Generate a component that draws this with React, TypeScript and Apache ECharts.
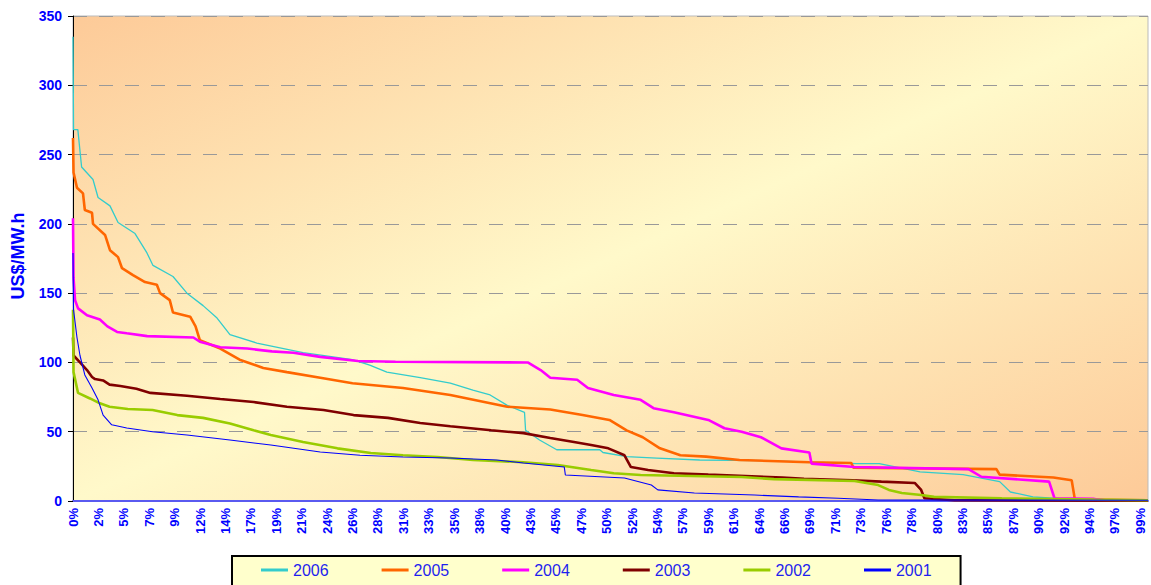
import React, { useEffect, useRef } from "react";
import * as echarts from "echarts";

const seriesNames = ["2006", "2005", "2004", "2003", "2002", "2001"];
const seriesColors = ["#33CCCC", "#FF6600", "#FF00FF", "#800000", "#99CC00", "#0000FF"];
const seriesWidths = [1.3, 2.6, 2.6, 2.6, 2.6, 1.1];

const xTickLabels = [
  "0%", "2%", "5%", "7%", "9%", "12%", "14%", "17%", "19%", "21%", "24%", "26%", "28%", "31%", "33%",
  "35%", "38%", "40%", "43%", "45%", "47%", "50%", "52%", "54%", "57%", "59%", "61%", "64%", "66%",
  "69%", "71%", "73%", "76%", "78%", "80%", "83%", "85%", "87%", "90%", "92%", "94%", "97%", "99%",
];
const xStep = 100 / 42.3;
const yTicks = { min: 0, max: 350, interval: 50 };

const s2006 = [
  [0, 335], [0.05, 268], [0.45, 268], [0.8, 241], [1.86, 232], [2.33, 219], [3.44, 213], [4.19, 201],
  [5.77, 193], [6.88, 179], [7.44, 170], [9.3, 162], [10.6, 150], [12.1, 141], [13.4, 132], [14.6, 120],
  [17.1, 114], [21.4, 107], [26.0, 102], [27.6, 98], [29.2, 93], [32.3, 89], [35.1, 85], [37.2, 80],
  [38.8, 76.5], [40.4, 69], [42.0, 64], [42.1, 51], [43.4, 44], [45.0, 37], [49.0, 37], [49.3, 35],
  [51.5, 32], [54.3, 31], [58.3, 29.6], [65.1, 29], [72.9, 27], [75.0, 27], [78.8, 21], [82.8, 19],
  [86.2, 14], [87.2, 6.5], [89.3, 3], [91.2, 2], [93, 1], [100, 0.5],
];
const s2005 = [
  [0, 262], [0.05, 237], [0.37, 226], [0.93, 222], [1.1, 210], [1.77, 208], [1.86, 200], [2.98, 192],
  [3.44, 181], [4.19, 176], [4.56, 168], [5.58, 163], [6.7, 158], [7.8, 156], [8.1, 150], [9.0, 145],
  [9.3, 136], [10.9, 133], [11.4, 126], [11.8, 116], [13.7, 110], [15.5, 102], [17.7, 96], [19.9, 93],
  [23.0, 89], [26.0, 85], [30.7, 81.5], [35.1, 76.5], [40.4, 68], [44.4, 66], [47.4, 62], [49.9, 58.5],
  [51.5, 51], [53.0, 46], [54.6, 38], [56.5, 33], [58.9, 32], [62.0, 29.6], [68.5, 28], [72.4, 27.4],
  [72.6, 24], [85.9, 23], [86.2, 19], [91.2, 17], [92.9, 15], [93.2, 1], [100, 0.5],
];
const s2004 = [
  [0, 204], [0.05, 161], [0.19, 145], [0.47, 139], [1.3, 134], [2.5, 131], [3.2, 126], [4.1, 122],
  [5.0, 121], [6.9, 119], [11.2, 118], [11.8, 115], [13.7, 111], [16.2, 110], [18.5, 108], [20.5, 107],
  [23.0, 104], [26.5, 101], [30, 100.5], [42.3, 100], [43.5, 94.5], [44.4, 89], [46.9, 87.5], [47.9, 81.5],
  [49.1, 79], [50.3, 76.5], [52.8, 73], [54.0, 67], [55.9, 64], [59.1, 58.5], [60.6, 52.5], [62.2, 50],
  [64.0, 46], [65.9, 38], [68.5, 35], [68.7, 27], [72.7, 24.5], [83.3, 23], [84.5, 17.5], [90.8, 14],
  [91.3, 2], [95, 1.5], [96, 0.5], [100, 0.3],
];
const s2003 = [
  [0, 118], [0.05, 105], [0.65, 100], [1.3, 94.5], [1.77, 89.5], [2.05, 88], [2.8, 87], [3.4, 84],
  [4.4, 83], [5.9, 81], [7.2, 78], [10.6, 76], [13.7, 73.6], [16.8, 71.4], [19.9, 68], [23.3, 65.7],
  [26.1, 62], [29.3, 60], [32.3, 56.3], [35.1, 54], [38.9, 51], [41.9, 49], [44.4, 45.5], [46.6, 42.6],
  [48.2, 40.4], [49.8, 38], [51.3, 33], [51.9, 24.5], [53.5, 22.4], [55.9, 20], [59.1, 19], [66, 17],
  [68, 16], [72.5, 15], [75.2, 14], [78.3, 13], [78.9, 8], [79.2, 2], [82, 0.5], [100, 0.3],
];
const s2002 = [
  [0, 138], [0.05, 93], [0.47, 78], [1.58, 74], [2.5, 70.5], [3.4, 68], [5.1, 66.4], [7.4, 65.7],
  [9.7, 62], [12.1, 60], [14.6, 56], [16.8, 51], [18.4, 47.6], [21.4, 42.6], [24.6, 38], [27.7, 34.6],
  [30.7, 33], [33.9, 31.7], [37.2, 29.6], [41.9, 28], [45.1, 26], [48.2, 22.4], [50.3, 20], [52.8, 18.8],
  [62.2, 17.3], [65.2, 15.8], [72.7, 14.4], [74.9, 11.5], [75.9, 8], [77.1, 5.8], [78.9, 4.3], [80.1, 3],
  [86.4, 2], [95, 1], [100, 0.5],
];
const s2001 = [
  [0, 179], [0.05, 138], [0.37, 118], [0.65, 105], [1.1, 91], [1.77, 81.5], [2.33, 73], [2.8, 62],
  [3.6, 55], [5.0, 52.7], [7.4, 50], [10.6, 47.6], [14.6, 44], [18.4, 40.4], [23.0, 35.4], [26.7, 33],
  [30.7, 31.7], [35.1, 31], [39.4, 29.6], [41.9, 27.4], [45.7, 24.5], [45.8, 18.8], [51.3, 16.6],
  [53.8, 11.5], [54.4, 8], [57.8, 5.8], [63.4, 4.3], [67.5, 3], [71.2, 2], [74.9, 0.7], [100, 0.5],
];
const seriesData = [s2006, s2005, s2004, s2003, s2002, s2001];

const FONT = 'Arial, "Liberation Sans", sans-serif';
const BLUE = "#0000FF";

export default function App() {
  const ref = useRef<HTMLDivElement>(null);
  useEffect(() => {
    if (!ref.current) return;
    const chart = echarts.init(ref.current, undefined, { renderer: "svg" });
    chart.setOption({
      animation: false,
      backgroundColor: "#FFFFFF",
      grid: {
        left: 73,
        top: 16,
        right: 3,
        bottom: 84,
        show: true,
        borderColor: "#BBBBBB",
        borderWidth: 1,
        backgroundColor: new echarts.graphic.LinearGradient(0, 0, 1, 1, [
          { offset: 0, color: "#FDCA98" },
          { offset: 0.5, color: "#FFF9CA" },
          { offset: 1, color: "#FDCA98" },
        ]),
      },
      legend: {
        data: seriesNames,
        left: 232,
        top: 556,
        icon: "rect",
        itemWidth: 27,
        itemHeight: 3,
        itemGap: 53,
        padding: [6, 29, 14, 29],
        backgroundColor: "#FFFFCC",
        borderColor: "#000000",
        borderWidth: 2,
        borderRadius: 0,
        textStyle: { color: "#1F1FEE", fontSize: 16, fontFamily: FONT },
      },
      xAxis: {
        type: "value",
        min: 0,
        max: 100,
        interval: xStep,
        axisLine: { show: true, lineStyle: { color: "#5A5AF0", width: 2 } },
        axisTick: { show: false },
        splitLine: { show: false },
        axisLabel: {
          rotate: 90,
          margin: 7,
          color: BLUE,
          fontWeight: "bold",
          fontSize: 13,
          fontFamily: FONT,
          showMaxLabel: false,
          formatter: (v: number) => {
            const i = Math.round(v / xStep);
            if (Math.abs(i * xStep - v) < 1e-6 && i < xTickLabels.length) return xTickLabels[i];
            return "";
          },
        },
      },
      yAxis: {
        type: "value",
        min: yTicks.min,
        max: yTicks.max,
        interval: yTicks.interval,
        axisLine: { show: true, lineStyle: { color: "#000000", width: 1 } },
        axisTick: { show: true, length: 5, lineStyle: { color: "#000000" } },
        splitLine: { show: true, lineStyle: { color: "#999999", type: [14, 12], width: 1 } },
        axisLabel: {
          margin: 11,
          color: BLUE,
          fontWeight: "bold",
          fontSize: 14,
          fontFamily: FONT,
        },
      },
      graphic: [
        {
          type: "text",
          x: 18,
          y: 256,
          rotation: Math.PI / 2,
          style: {
            text: "US$/MW.h",
            fill: BLUE,
            font: `bold 18px ${FONT}`,
            align: "center",
            verticalAlign: "middle",
          },
        },
      ],
      series: seriesNames.map((name, i) => ({
        name,
        type: "line",
        data: seriesData[i],
        symbol: "none",
        showSymbol: false,
        color: seriesColors[i],
        lineStyle: { color: seriesColors[i], width: seriesWidths[i] },
        z: 2 + i,
      })),
    });
    return () => chart.dispose();
  }, []);
  return (
    <div
      ref={ref}
      style={{ position: "absolute", left: 0, top: 0, width: 1151, height: 585 }}
    />
  );
}
